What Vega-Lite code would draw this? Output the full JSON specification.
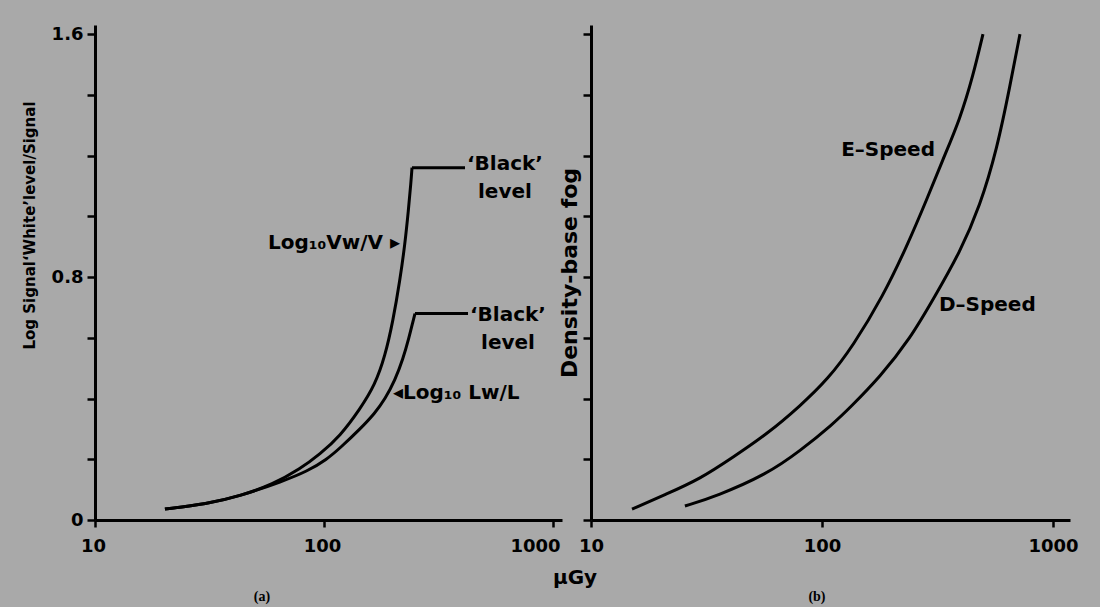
{
  "$schema": "https://vega.github.io/schema/vega-lite/v6.json",
  "background": "#a9a9a9",
  "padding": {"left": 22, "top": 25, "right": 21, "bottom": 3},
  "spacing": 29,
  "bounds": "flush",
  "config": {
    "font": "DejaVu Sans",
    "view": {"stroke": null},
    "axis": {
      "domainColor": "black", "domainWidth": 3, "tickColor": "black", "tickWidth": 2.5,
      "grid": false, "labelColor": "black", "titleColor": "black",
      "labelFont": "DejaVu Sans", "labelFontSize": 18, "labelFontWeight": "bold",
      "titleFont": "DejaVu Sans", "labelFlush": false, "labelOverlap": false
    }
  },
  "datasets": {
    "signal": [
      {"series": "Vw/V", "dose": 20.2, "value": 0.036},
      {"series": "Vw/V", "dose": 30.8, "value": 0.053},
      {"series": "Vw/V", "dose": 43.0, "value": 0.079},
      {"series": "Vw/V", "dose": 59.9, "value": 0.118},
      {"series": "Vw/V", "dose": 78.6, "value": 0.168},
      {"series": "Vw/V", "dose": 96.0, "value": 0.217},
      {"series": "Vw/V", "dose": 117.5, "value": 0.276},
      {"series": "Vw/V", "dose": 143.6, "value": 0.365},
      {"series": "Vw/V", "dose": 167.0, "value": 0.445},
      {"series": "Vw/V", "dose": 184.7, "value": 0.539},
      {"series": "Vw/V", "dose": 200.1, "value": 0.655},
      {"series": "Vw/V", "dose": 214.7, "value": 0.790},
      {"series": "Vw/V", "dose": 225.8, "value": 0.910},
      {"series": "Vw/V", "dose": 233.7, "value": 1.020},
      {"series": "Vw/V", "dose": 239.9, "value": 1.114},
      {"series": "Vw/V", "dose": 242.3, "value": 1.160},
      {"series": "Vw/V level", "dose": 242.3, "value": 1.160},
      {"series": "Vw/V level", "dose": 412.9, "value": 1.160},
      {"series": "Lw/L", "dose": 20.2, "value": 0.036},
      {"series": "Lw/L", "dose": 30.8, "value": 0.053},
      {"series": "Lw/L", "dose": 43.0, "value": 0.079},
      {"series": "Lw/L", "dose": 66.2, "value": 0.128},
      {"series": "Lw/L", "dose": 84.3, "value": 0.160},
      {"series": "Lw/L", "dose": 103.1, "value": 0.200},
      {"series": "Lw/L", "dose": 117.5, "value": 0.237},
      {"series": "Lw/L", "dose": 143.6, "value": 0.299},
      {"series": "Lw/L", "dose": 167.0, "value": 0.352},
      {"series": "Lw/L", "dose": 184.7, "value": 0.398},
      {"series": "Lw/L", "dose": 204.2, "value": 0.460},
      {"series": "Lw/L", "dose": 221.3, "value": 0.530},
      {"series": "Lw/L", "dose": 235.0, "value": 0.600},
      {"series": "Lw/L", "dose": 244.7, "value": 0.654},
      {"series": "Lw/L", "dose": 249.7, "value": 0.680},
      {"series": "Lw/L level", "dose": 249.7, "value": 0.680},
      {"series": "Lw/L level", "dose": 425.6, "value": 0.680}
    ],
    "film": [
      {"series": "E-Speed", "dose": 15.05, "value": 0.036},
      {"series": "E-Speed", "dose": 21.3, "value": 0.086},
      {"series": "E-Speed", "dose": 29.6, "value": 0.135},
      {"series": "E-Speed", "dose": 41.2, "value": 0.207},
      {"series": "E-Speed", "dose": 57.8, "value": 0.283},
      {"series": "E-Speed", "dose": 80.3, "value": 0.375},
      {"series": "E-Speed", "dose": 106.2, "value": 0.464},
      {"series": "E-Speed", "dose": 136.2, "value": 0.573},
      {"series": "E-Speed", "dose": 183.7, "value": 0.737},
      {"series": "E-Speed", "dose": 233.3, "value": 0.902},
      {"series": "E-Speed", "dose": 284.8, "value": 1.057},
      {"series": "E-Speed", "dose": 334.1, "value": 1.188},
      {"series": "E-Speed", "dose": 395.7, "value": 1.320},
      {"series": "E-Speed", "dose": 450.6, "value": 1.462},
      {"series": "E-Speed", "dose": 497.7, "value": 1.600},
      {"series": "D-Speed", "dose": 25.5, "value": 0.046},
      {"series": "D-Speed", "dose": 35.1, "value": 0.079},
      {"series": "D-Speed", "dose": 57.8, "value": 0.151},
      {"series": "D-Speed", "dose": 80.3, "value": 0.227},
      {"series": "D-Speed", "dose": 111.6, "value": 0.316},
      {"series": "D-Speed", "dose": 132.2, "value": 0.370},
      {"series": "D-Speed", "dose": 178.3, "value": 0.471},
      {"series": "D-Speed", "dose": 240.4, "value": 0.596},
      {"series": "D-Speed", "dose": 308.5, "value": 0.737},
      {"series": "D-Speed", "dose": 395.7, "value": 0.882},
      {"series": "D-Speed", "dose": 483.1, "value": 1.034},
      {"series": "D-Speed", "dose": 572.3, "value": 1.221},
      {"series": "D-Speed", "dose": 651.4, "value": 1.429},
      {"series": "D-Speed", "dose": 719.6, "value": 1.600}
    ],
    "notesRightA": [
      {"dose": 214.7, "value": 0.912, "label": "Log₁₀Vw/V ▸"}
    ],
    "notesLeftA": [
      {"dose": 200, "value": 0.418, "label": "◂Log₁₀ Lw/L"}
    ],
    "notesCenterA": [
      {"dose": 617, "value": 1.172, "label": "‘Black’\nlevel"},
      {"dose": 636, "value": 0.675, "label": "‘Black’\nlevel"},
      {"dose": 1248, "value": -0.191, "label": "µGy"}
    ],
    "captionA": [
      {"dose": 53.6, "value": -0.254, "label": "(a)"}
    ],
    "notesRightB": [
      {"dose": 308.5, "value": 1.218, "label": "E–Speed"}
    ],
    "notesLeftB": [
      {"dose": 321, "value": 0.708, "label": "D–Speed"}
    ],
    "captionB": [
      {"dose": 95.1, "value": -0.254, "label": "(b)"}
    ]
  },
  "hconcat": [
    {
      "width": 467,
      "height": 495,
      "encoding": {
        "x": {
          "field": "dose", "type": "quantitative",
          "scale": {"type": "log", "domain": [10, 1095], "nice": false},
          "axis": {
            "values": [10, 100, 1000], "title": null, "tickSize": 7, "labelPadding": 10,
            "labelExpr": "format(datum.value, 'd')",
            "labelOffset": {"condition": {"test": "datum.value >= 1000", "value": -18}, "value": -2}
          }
        },
        "y": {
          "field": "value", "type": "quantitative",
          "scale": {"domain": [0, 1.63], "nice": false, "zero": false},
          "axis": {
            "values": [0, 0.2, 0.4, 0.6, 0.8, 1.0, 1.2, 1.4, 1.6],
            "labelExpr": "datum.value == 0 ? '0' : (datum.value == 0.8 ? '0.8' : (datum.value == 1.6 ? '1.6' : ''))",
            "tickSize": 8, "labelPadding": 4,
            "title": "Log Signal‘White’level/Signal",
            "titleFontSize": 15, "titleFontWeight": "bold", "titlePadding": 14, "titleY": 200
          }
        }
      },
      "layer": [
        {
          "data": {"name": "signal"},
          "mark": {"type": "line", "color": "black", "strokeWidth": 3, "interpolate": "basis"},
          "encoding": {"detail": {"field": "series"}}
        },
        {
          "data": {"name": "notesRightA"},
          "mark": {"type": "text", "align": "right", "baseline": "middle", "fontSize": 20, "fontWeight": "bold", "color": "black"},
          "encoding": {"text": {"field": "label"}}
        },
        {
          "data": {"name": "notesLeftA"},
          "mark": {"type": "text", "align": "left", "baseline": "middle", "fontSize": 20, "fontWeight": "bold", "color": "black"},
          "encoding": {"text": {"field": "label"}}
        },
        {
          "data": {"name": "notesCenterA"},
          "mark": {"type": "text", "align": "center", "baseline": "middle", "fontSize": 20, "fontWeight": "bold", "color": "black", "lineBreak": "\n", "lineHeight": 28},
          "encoding": {"text": {"field": "label"}}
        },
        {
          "data": {"name": "captionA"},
          "mark": {"type": "text", "align": "center", "baseline": "middle", "font": "Liberation Serif", "fontSize": 14, "fontWeight": "bold", "color": "black"},
          "encoding": {"text": {"field": "label"}}
        }
      ]
    },
    {
      "width": 479,
      "height": 495,
      "encoding": {
        "x": {
          "field": "dose", "type": "quantitative",
          "scale": {"type": "log", "domain": [10, 1185], "nice": false},
          "axis": {"values": [10, 100, 1000], "title": null, "tickSize": 7, "labelPadding": 10, "labelExpr": "format(datum.value, 'd')"}
        },
        "y": {
          "field": "value", "type": "quantitative",
          "scale": {"domain": [0, 1.63], "nice": false, "zero": false},
          "axis": {
            "values": [0, 0.2, 0.4, 0.6, 0.8, 1.0, 1.2, 1.4, 1.6],
            "labels": false, "tickSize": 8,
            "title": "Density-base fog", "titleFontSize": 22, "titleFontWeight": "bold", "titlePadding": 0
          }
        }
      },
      "layer": [
        {
          "data": {"name": "film"},
          "mark": {"type": "line", "color": "black", "strokeWidth": 3, "interpolate": "basis"},
          "encoding": {"detail": {"field": "series"}}
        },
        {
          "data": {"name": "notesRightB"},
          "mark": {"type": "text", "align": "right", "baseline": "middle", "fontSize": 20, "fontWeight": "bold", "color": "black"},
          "encoding": {"text": {"field": "label"}}
        },
        {
          "data": {"name": "notesLeftB"},
          "mark": {"type": "text", "align": "left", "baseline": "middle", "fontSize": 20, "fontWeight": "bold", "color": "black"},
          "encoding": {"text": {"field": "label"}}
        },
        {
          "data": {"name": "captionB"},
          "mark": {"type": "text", "align": "center", "baseline": "middle", "font": "Liberation Serif", "fontSize": 14, "fontWeight": "bold", "color": "black"},
          "encoding": {"text": {"field": "label"}}
        }
      ]
    }
  ]
}
